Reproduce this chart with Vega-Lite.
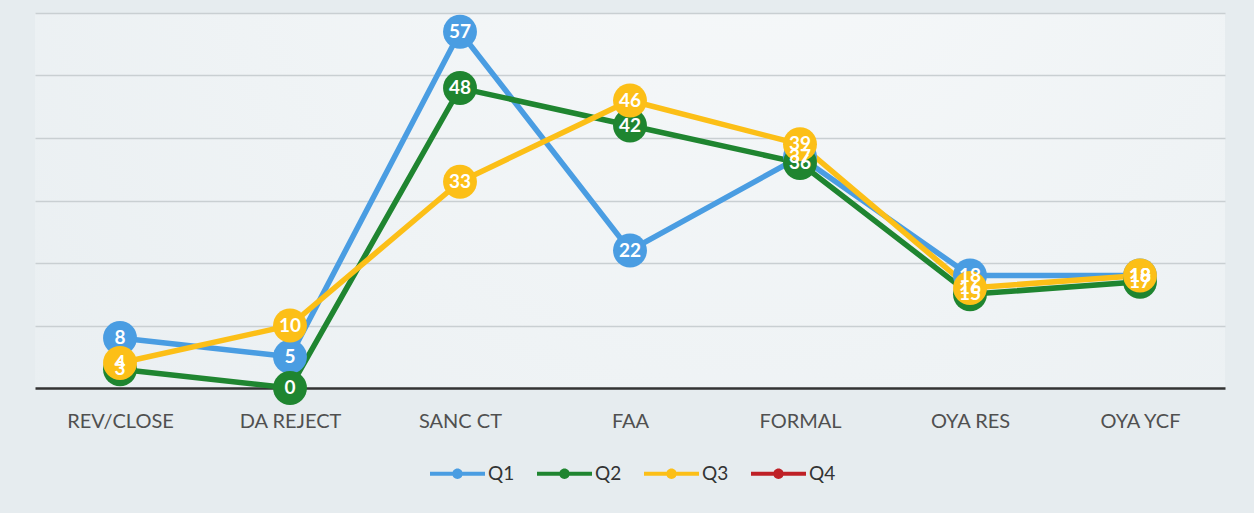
{
  "$schema": "https://vega.github.io/schema/vega-lite/v6.json",
  "width": 1190,
  "height": 375,
  "autosize": {"type": "none"},
  "padding": {"left": 35, "top": 13, "right": 29, "bottom": 125},
  "background": "#e6ecef",
  "config": {
    "view": {
      "stroke": null,
      "fill": {
        "gradient": "radial",
        "x1": 0.6, "y1": 0.2, "x2": 0.6, "y2": 0.2, "r1": 0, "r2": 0.9,
        "stops": [
          {"offset": 0, "color": "#f7f9fa"},
          {"offset": 1, "color": "#e7edf0"}
        ]
      }
    }
  },
  "data": {
    "values": [
      {"category": "REV/CLOSE", "series": "Q1", "value": 8},
      {"category": "DA REJECT", "series": "Q1", "value": 5},
      {"category": "SANC CT", "series": "Q1", "value": 57},
      {"category": "FAA", "series": "Q1", "value": 22},
      {"category": "FORMAL", "series": "Q1", "value": 37},
      {"category": "OYA RES", "series": "Q1", "value": 18},
      {"category": "OYA YCF", "series": "Q1", "value": 18},
      {"category": "REV/CLOSE", "series": "Q2", "value": 3},
      {"category": "DA REJECT", "series": "Q2", "value": 0},
      {"category": "SANC CT", "series": "Q2", "value": 48},
      {"category": "FAA", "series": "Q2", "value": 42},
      {"category": "FORMAL", "series": "Q2", "value": 36},
      {"category": "OYA RES", "series": "Q2", "value": 15},
      {"category": "OYA YCF", "series": "Q2", "value": 17},
      {"category": "REV/CLOSE", "series": "Q3", "value": 4},
      {"category": "DA REJECT", "series": "Q3", "value": 10},
      {"category": "SANC CT", "series": "Q3", "value": 33},
      {"category": "FAA", "series": "Q3", "value": 46},
      {"category": "FORMAL", "series": "Q3", "value": 39},
      {"category": "OYA RES", "series": "Q3", "value": 16},
      {"category": "OYA YCF", "series": "Q3", "value": 18}
    ]
  },
  "encoding": {
    "x": {
      "field": "category",
      "type": "nominal",
      "sort": ["REV/CLOSE", "DA REJECT", "SANC CT", "FAA", "FORMAL", "OYA RES", "OYA YCF"],
      "scale": {"type": "point", "padding": 0.5},
      "axis": {
        "title": null,
        "labelAngle": 0,
        "labelFont": "Lato",
        "labelFontSize": 20,
        "labelColor": "#505050",
        "labelPadding": 23,
        "ticks": false,
        "domain": false,
        "grid": false
      }
    },
    "y": {
      "field": "value",
      "type": "quantitative",
      "scale": {"domain": [0, 60], "nice": false},
      "axis": {
        "title": null,
        "labels": false,
        "ticks": false,
        "domain": false,
        "values": [0, 10, 20, 30, 40, 50, 60],
        "grid": true,
        "gridColor": {"condition": {"test": "datum.value === 0", "value": "#333333"}, "value": "#c9cfd2"},
        "gridWidth": {"condition": {"test": "datum.value === 0", "value": 2.5}, "value": 1.5}
      }
    },
    "color": {
      "field": "series",
      "type": "nominal",
      "scale": {
        "domain": ["Q1", "Q2", "Q3", "Q4"],
        "range": ["#4a9de2", "#1f8530", "#fcbf17", "#bf2026"]
      },
      "legend": {
        "orient": "none",
        "legendX": 395,
        "legendY": 433,
        "direction": "horizontal",
        "title": null,
        "symbolType": "M-1,-0.07L1,-0.07L1,0.07L-1,0.07Z M0,-0.19A0.19,0.19 0 1,1 0,0.19A0.19,0.19 0 1,1 0,-0.19Z",
        "symbolSize": 3025,
        "symbolStrokeWidth": 0,
        "symbolOpacity": 1,
        "labelFont": "Lato",
        "labelFontSize": 19,
        "labelColor": "#333333",
        "labelOffset": 3,
        "columnPadding": 22,
        "padding": 0
      }
    }
  },
  "layer": [
    {
      "mark": {"type": "line", "strokeWidth": 5.5},
      "encoding": {"order": {"field": "series"}}
    },
    {
      "mark": {"type": "point", "filled": true, "opacity": 1, "size": 1150, "shape": "circle", "strokeWidth": 0}
    },
    {
      "mark": {"type": "text", "font": "Lato", "fontWeight": "bold", "fontSize": 19, "baseline": "middle", "align": "center"},
      "encoding": {
        "text": {"field": "value", "type": "quantitative"},
        "color": {"value": "white"}
      }
    }
  ]
}
